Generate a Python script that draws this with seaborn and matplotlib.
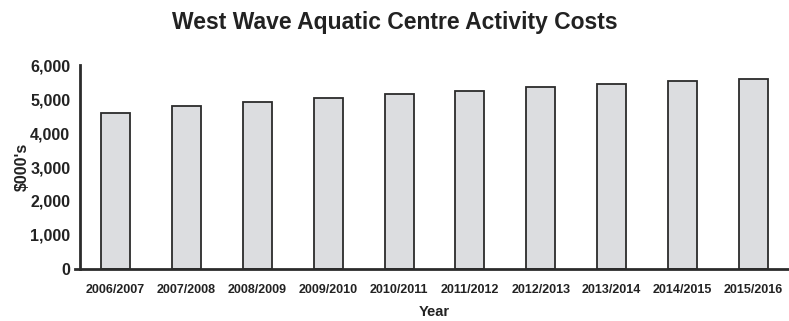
import matplotlib
matplotlib.use("Agg")
import matplotlib.pyplot as plt
import seaborn as sns
import pandas as pd

# values ($000's)
years = ['2006/2007', '2007/2008', '2008/2009', '2009/2010', '2010/2011',
         '2011/2012', '2012/2013', '2013/2014', '2014/2015', '2015/2016']
costs = [4600, 4800, 4920, 5020, 5145, 5245, 5345, 5440, 5520, 5590]
yticks = [0, 1000, 2000, 3000, 4000, 5000, 6000]

data = pd.DataFrame({'Year': years, 'Cost': costs})

sns.set_style('white')
plt.rcParams['font.family'] = ['Liberation Sans Narrow', 'Liberation Sans', 'DejaVu Sans']

fig = plt.figure(figsize=(7.89, 3.21), dpi=100)
ax = fig.add_axes([0.1014, 0.162, 0.8986, 0.6355])

sns.barplot(data=data, x='Year', y='Cost', color='#dcdde0', width=0.41,
            edgecolor='#2b2b2b', linewidth=1.3, saturation=1, ax=ax)

ax.set_xlim(-0.5, 9.5)
ax.set_ylim(0, 6000)
ax.set_yticks(yticks)
ax.set_yticklabels([f'{v:,}' for v in yticks], fontsize=11.5, fontweight='bold', color='#222222')
ax.set_xticks(range(len(years)))
ax.set_xticklabels(years, fontsize=9, fontweight='bold', color='#222222')
ax.tick_params(axis='both', length=0, pad=7)
ax.tick_params(axis='x', pad=11)

for s in ['top', 'right']:
    ax.spines[s].set_visible(False)
for s in ['left', 'bottom']:
    ax.spines[s].set_color('#2b2b2b')
    ax.spines[s].set_linewidth(2)
ax.spines['bottom'].set_bounds(-0.57, 9.5)

ax.set_xlabel('Year', fontsize=10.5, fontweight='bold', color='#222222', labelpad=6)
ax.set_ylabel("$000's", fontsize=11.5, fontweight='bold', color='#222222', labelpad=0)

fig.text(0.5, 0.93, 'West Wave Aquatic Centre Activity Costs', ha='center', va='center',
         fontsize=16.5, fontweight='bold', color='#222222',
         family=['Liberation Sans', 'DejaVu Sans'])

fig.savefig('out.png', dpi=100)
